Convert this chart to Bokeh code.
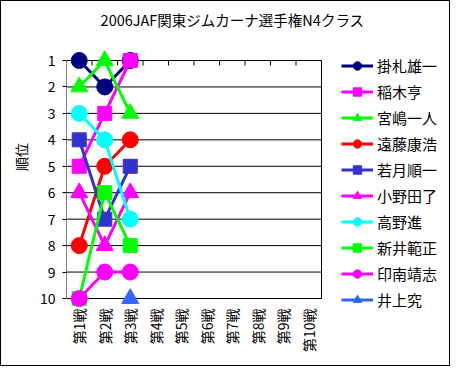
import math
from bokeh.plotting import figure
from bokeh.models import Range1d, FixedTicker, Legend, LegendItem, Label, ColumnDataSource
from bokeh.embed import file_html
from bokeh.resources import INLINE

nan = float("nan")

chart_title = "2006JAF関東ジムカーナ選手権N4クラス"
y_title = "順位"
rounds = ["第1戦", "第2戦", "第3戦", "第4戦", "第5戦", "第6戦", "第7戦", "第8戦", "第9戦", "第10戦"]
ranks = [1, 2, 3, 4, 5, 6, 7, 8, 9, 10]

names = ["掛札雄一", "稲木亨", "宮嶋一人", "遠藤康浩", "若月順一",
         "小野田了", "高野進", "新井範正", "印南靖志", "井上究"]
kakefuda = [1, 2, 1]
inaki = [5, 3, 1]
miyajima = [2, 1, 3]
endo = [8, 5, 4]
wakatsuki = [4, 7, 5]
onoda = [6, 8, 6]
takano = [3, 4, 7]
arai = [10, 6, 8]
innami = [10, 9, 9]
inoue = [nan, nan, 10]
series = [kakefuda, inaki, miyajima, endo, wakatsuki, onoda, takano, arai, innami, inoue]

colors = ["#000080", "#FF00FF", "#00FF00", "#FF0000", "#3333CC",
          "#FF00FF", "#00FFFF", "#00FF00", "#FF00FF", "#3366FF"]
markers = ["circle", "square", "triangle", "circle", "square",
           "triangle", "circle", "square", "circle", "triangle"]
msizes = {"circle": 16, "square": 14, "triangle": 17}

FONT = "Noto Sans CJK JP"
n = len(rounds)

# layout (pixels)
W, H = 450, 366
BL, BB = 65, 55              # left / bottom borders
PLOT_W, PLOT_H = 255, 238     # visible plot box
TOP_GAP = 59                  # space from canvas top to rank-1 line
PAD_BOTTOM = 14               # frame extends below rank-10 line
frame_w = W - BL
frame_h = H - BB
px_x = PLOT_W / n
px_y = PLOT_H / (ranks[-1] - ranks[0])

x0 = 0.5
x1 = x0 + frame_w / px_x
y_top = ranks[0] - TOP_GAP / px_y
y_bot = ranks[-1] + PAD_BOTTOM / px_y

p = figure(width=W, height=H, output_backend="svg", toolbar_location=None,
           x_range=Range1d(x0, x1), y_range=Range1d(y_bot, y_top),
           min_border_left=BL, min_border_right=0, min_border_top=0, min_border_bottom=BB,
           outline_line_color=None, background_fill_color="white", border_fill_color="white",
           styles={"border": "1px solid black", "box-sizing": "border-box"})

# axes
xa = p.xaxis[0]
xa.ticker = FixedTicker(ticks=list(range(1, n + 1)))
xa.major_label_overrides = {i + 1: r for i, r in enumerate(rounds)}
xa.major_label_orientation = math.pi / 2
xa.axis_line_color = None
xa.major_tick_line_color = None
xa.minor_tick_line_color = None
xa.major_label_standoff = -10
xa.major_label_text_font = FONT
xa.major_label_text_font_size = "14px"
xa.major_label_text_color = "black"

ya = p.yaxis[0]
ya.ticker = FixedTicker(ticks=ranks)
ya.axis_line_color = None
ya.major_tick_out = 4
ya.major_tick_in = 0
ya.major_tick_line_color = "black"
ya.minor_tick_line_color = None
ya.major_label_standoff = 7
ya.major_label_text_font = FONT
ya.major_label_text_font_size = "14px"
ya.major_label_text_color = "black"
ya.axis_label = y_title
ya.axis_label_text_font = FONT
ya.axis_label_text_font_size = "14px"
ya.axis_label_text_font_style = "normal"
ya.axis_label_text_color = "black"
ya.axis_label_standoff = 6

p.xgrid.visible = False
p.ygrid.visible = False

# plot box: horizontal rank lines, sides, top category-boundary ticks
left_edge, right_edge = 0.5, n + 0.5
p.segment(x0=[left_edge] * len(ranks), y0=ranks, x1=[right_edge] * len(ranks), y1=ranks,
          line_color="black", line_width=1)
p.segment(x0=[left_edge, right_edge], y0=[ranks[0]] * 2, x1=[left_edge, right_edge],
          y1=[ranks[-1]] * 2, line_color="black", line_width=1)
bx = [i + 0.5 for i in range(1, n)]
p.segment(x0=bx, y0=[ranks[0]] * len(bx), x1=bx, y1=[ranks[0] + 5 / px_y] * len(bx),
          line_color="black", line_width=1)

items = []
for name, vals, c, m in zip(names, series, colors, markers):
    xs = list(range(1, len(vals) + 1))
    src = ColumnDataSource(dict(x=xs, y=vals))
    p.line("x", "y", source=src, line_color=c, line_width=3)
    p.scatter("x", "y", source=src, marker=m, size=msizes[m], fill_color=c, line_color=c)
    lr = p.line(x=[nan], y=[nan], line_color=c, line_width=3)
    sr = p.scatter(x=[nan], y=[nan], marker=m, size=9, fill_color=c, line_color=c)
    items.append(LegendItem(label=name, renderers=[lr, sr]))

legend = Legend(items=items, location=(PLOT_W + 20, 2), margin=0, padding=0, spacing=5,
                label_height=21, glyph_height=21, glyph_width=32, label_standoff=4,
                border_line_color=None, background_fill_alpha=0,
                label_text_font=FONT, label_text_font_size="15px", label_text_color="black")
p.add_layout(legend, "center")

p.add_layout(Label(x=166, y=frame_h - 18, x_units="screen", y_units="screen", text=chart_title,
                   text_align="center", text_baseline="middle", text_font=FONT,
                   text_font_size="14.5px", text_color="black"))

open("out.html", "w").write(file_html(p, INLINE))
